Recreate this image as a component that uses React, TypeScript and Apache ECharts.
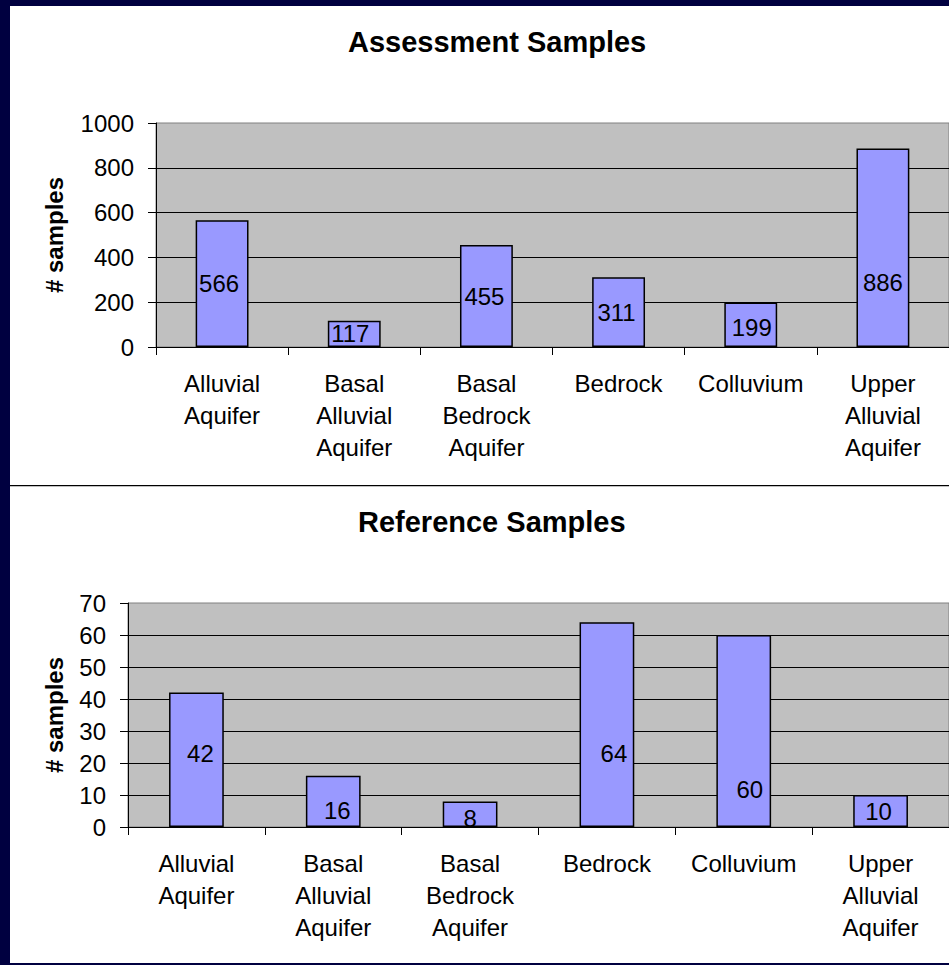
import React, { useEffect, useRef } from "react";
import * as echarts from "echarts";

const categories = [
  "Alluvial\nAquifer",
  "Basal\nAlluvial\nAquifer",
  "Basal\nBedrock\nAquifer",
  "Bedrock",
  "Colluvium",
  "Upper\nAlluvial\nAquifer",
];
const assessmentValues = [566, 117, 455, 311, 199, 886];
const referenceValues = [42, 16, 8, 64, 60, 10];
const assessmentTitle = "Assessment Samples";
const referenceTitle = "Reference Samples";
const yAxisName = "# samples";

// label placement tweaks (style only)
const assessmentLabelOffsets = [[-3, 0], [-4, 0], [-2, 0], [-2, 0], [1, 3], [0, 35]];
const referenceLabelOffsets = [[4, -6], [4, 9], [0, 4], [7, 29], [6, 58], [-2, 0]];

const FONT = "'Liberation Sans', Arial, sans-serif";
const BAR_COLOR = "#9999FF";

function buildData(values: number[], offsets: number[][]) {
  return values.map((v, i) => ({ value: v, label: { offset: offsets[i] } }));
}

export default function App() {
  const ref = useRef<HTMLDivElement>(null);
  useEffect(() => {
    if (!ref.current) return;
    const chart = echarts.init(ref.current, null, { renderer: "svg" });
    const axisLabelStyle = { color: "#000", fontSize: 24, fontFamily: FONT };
    const makeX = (gridIndex: number) => ({
      type: "category",
      gridIndex,
      data: categories,
      axisLine: { show: true, lineStyle: { color: "#000", width: 1 } },
      axisTick: { show: true, length: 8, lineStyle: { color: "#000" } },
      axisLabel: { ...axisLabelStyle, interval: 0, lineHeight: 32, margin: 20 },
      splitLine: { show: false },
    });
    const makeY = (gridIndex: number, max: number, interval: number, nameGap: number) => ({
      type: "value",
      gridIndex,
      min: 0,
      max,
      interval,
      name: yAxisName,
      nameLocation: "middle",
      nameRotate: 90,
      nameGap,
      nameTextStyle: { color: "#000", fontSize: 24, fontWeight: "bold", fontFamily: FONT },
      axisLine: { show: true, lineStyle: { color: "#000", width: 1 } },
      axisTick: { show: true, length: 8, lineStyle: { color: "#000" } },
      axisLabel: { ...axisLabelStyle, margin: 22, formatter: (v: number) => String(v) },
      splitLine: {
        show: true,
        showMaxLine: false,
        lineStyle: { color: "#000", width: 1 },
      },
    });
    const barSeries = (idx: number, data: any[]) => ({
      type: "bar",
      xAxisIndex: idx,
      yAxisIndex: idx,
      data,
      barCategoryGap: "60%",
      itemStyle: { color: BAR_COLOR, borderColor: "#000", borderWidth: 1.5 },
      label: {
        show: true,
        position: "inside",
        color: "#000",
        fontSize: 24,
        fontFamily: FONT,
      },
    });
    chart.setOption({
      animation: false,
      backgroundColor: "#000040",
      textStyle: { fontFamily: FONT },
      title: [
        {
          text: assessmentTitle,
          left: 343,
          top: 22,
          textStyle: { color: "#000", fontSize: 29, fontWeight: "bold", fontFamily: FONT },
        },
        {
          text: referenceTitle,
          left: 353,
          top: 502,
          textStyle: { color: "#000", fontSize: 29, fontWeight: "bold", fontFamily: FONT },
        },
      ],
      graphic: [
        {
          type: "rect",
          z: -100,
          shape: { x: 10, y: 6, width: 939, height: 957 },
          style: { fill: "#ffffff" },
        },
        {
          type: "line",
          z: -90,
          shape: { x1: 10, y1: 485.5, x2: 949, y2: 485.5 },
          style: { stroke: "#000", lineWidth: 1 },
        },
        {
          type: "line",
          z: -90,
          shape: { x1: 10, y1: 486.5, x2: 949, y2: 486.5 },
          style: { stroke: "#c0c0c0", lineWidth: 1 },
        },
      ],
      grid: [
        {
          left: 156,
          top: 123,
          width: 793,
          height: 224,
          show: true,
          backgroundColor: "#C0C0C0",
          borderColor: "#808080",
          borderWidth: 1,
        },
        {
          left: 128,
          top: 603,
          width: 822,
          height: 224,
          show: true,
          backgroundColor: "#C0C0C0",
          borderColor: "#808080",
          borderWidth: 1,
        },
      ],
      xAxis: [makeX(0), makeX(1)],
      yAxis: [makeY(0, 1000, 200, 90), makeY(1, 70, 10, 62)],
      series: [
        barSeries(0, buildData(assessmentValues, assessmentLabelOffsets)),
        barSeries(1, buildData(referenceValues, referenceLabelOffsets)),
      ],
    });
    return () => chart.dispose();
  }, []);
  return (
    <div
      ref={ref}
      style={{ position: "fixed", left: 0, top: 0, width: 949, height: 965 }}
    />
  );
}
